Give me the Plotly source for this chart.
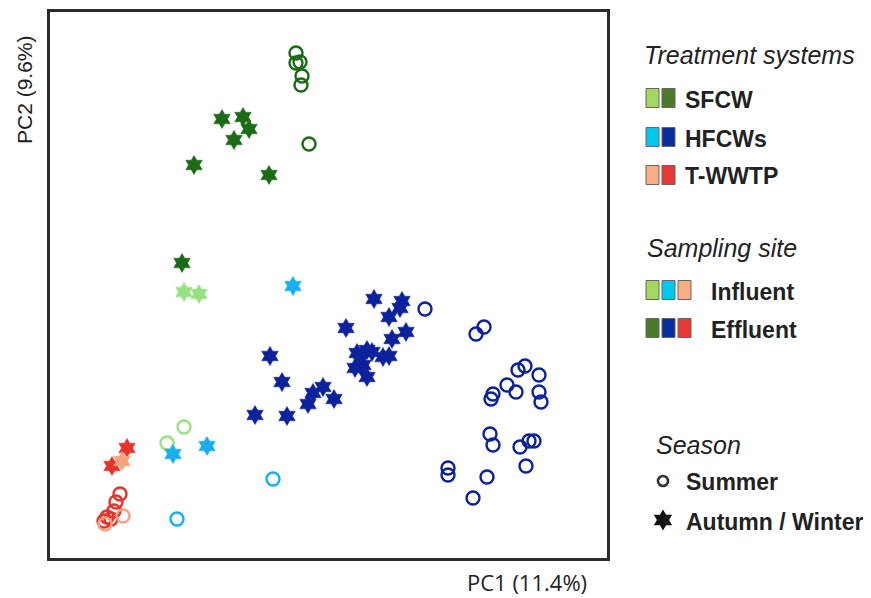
import plotly.graph_objects as go

# page body has an 8px margin, so the figure is drawn 8px in from the top-left
OFF = 8
W, H = 871 - OFF, 598 - OFF

# ---- data (PC scores, arbitrary units) ----
sfcw_eff_summer_x = [246, 246, 250, 252, 251, 259]
sfcw_eff_summer_y = [505, 495, 496, 482, 473, 414]
sfcw_eff_winter_x = [172, 193, 199, 184, 144, 219, 132]
sfcw_eff_winter_y = [439, 441, 429, 418, 393, 383, 295]
sfcw_inf_winter_x = [134, 149]
sfcw_inf_winter_y = [266, 264]
sfcw_inf_summer_x = [134, 117]
sfcw_inf_summer_y = [131, 115]

hfcw_inf_winter_x = [243, 123, 157]
hfcw_inf_winter_y = [272, 104, 112]
hfcw_inf_summer_x = [223, 127]
hfcw_inf_summer_y = [79, 39]
hfcw_eff_winter_x = [324, 352, 350, 339, 296, 356, 342, 307, 317, 333, 339, 305, 313, 317,
                     220, 232, 273, 263, 284, 258, 205, 237, 310, 322]
hfcw_eff_winter_y = [259, 257, 250, 241, 230, 226, 219, 205, 208, 201, 202, 190, 193, 181,
                     202, 176, 171, 165, 159, 154, 143, 142, 198, 206]
hfcw_eff_summer_x = [375, 434, 426, 475, 468, 489, 457, 466, 489, 491, 443, 441, 440, 443,
                     470, 479, 484, 398, 398, 437, 476, 423]
hfcw_eff_summer_y = [249, 231, 224, 192, 188, 183, 173, 166, 166, 156, 164, 159, 124, 113,
                     111, 117, 117, 90, 83, 81, 92, 60]

twwtp_eff_winter_x = [77, 62]
twwtp_eff_winter_y = [110, 92]
twwtp_inf_winter_x = [72]
twwtp_inf_winter_y = [97]
twwtp_eff_summer_x = [70, 66, 64, 57, 54, 61]
twwtp_eff_summer_y = [64, 56, 47, 41, 37, 39]
twwtp_inf_summer_x = [73, 55]
twwtp_inf_summer_y = [42, 34]

# marker colours
C_SF_IN, C_SF_EF = "#96e283", "#1c6b16"
C_HF_IN, C_HF_EF = "#18aef2", "#0c229c"
C_TW_IN, C_TW_EF = "#f7a27c", "#e8322c"
# legend colours
L_SF = ["#a2d95c", "#4a7a2c"]
L_HF = ["#00c8ee", "#0a2c9c"]
L_TW = ["#f8ae80", "#e83a34"]

fig = go.Figure()

def circles(x, y, c):
    fig.add_trace(go.Scatter(x=x, y=y, mode="markers", showlegend=False, hoverinfo="x+y",
                             marker=dict(symbol="circle-open", size=13, color=c,
                                         line=dict(width=2.4, color=c))))

def stars(x, y, c):
    fig.add_trace(go.Scatter(x=x, y=y, mode="markers", showlegend=False, hoverinfo="x+y",
                             marker=dict(symbol="hexagram", size=14.5, color=c,
                                         line=dict(width=0.5, color=c))))

circles(sfcw_eff_summer_x, sfcw_eff_summer_y, C_SF_EF)
circles(sfcw_inf_summer_x, sfcw_inf_summer_y, C_SF_IN)
circles(hfcw_eff_summer_x, hfcw_eff_summer_y, C_HF_EF)
circles(hfcw_inf_summer_x, hfcw_inf_summer_y, C_HF_IN)
circles(twwtp_eff_summer_x, twwtp_eff_summer_y, C_TW_EF)
circles(twwtp_inf_summer_x, twwtp_inf_summer_y, C_TW_IN)
stars(sfcw_eff_winter_x, sfcw_eff_winter_y, C_SF_EF)
stars(sfcw_inf_winter_x, sfcw_inf_winter_y, C_SF_IN)
stars(hfcw_eff_winter_x, hfcw_eff_winter_y, C_HF_EF)
stars(hfcw_inf_winter_x, hfcw_inf_winter_y, C_HF_IN)
stars(twwtp_eff_winter_x, twwtp_eff_winter_y, C_TW_EF)
stars(twwtp_inf_winter_x, twwtp_inf_winter_y, C_TW_IN)

# season legend markers on an overlay axis in screen-pixel units
fig.add_trace(go.Scatter(x=[663], y=[481], mode="markers", showlegend=False, hoverinfo="skip",
                         xaxis="x2", yaxis="y2",
                         marker=dict(symbol="circle-open", size=10, color="#333",
                                     line=dict(width=2.6, color="#333"))))
fig.add_trace(go.Scatter(x=[663], y=[520], mode="markers", showlegend=False, hoverinfo="skip",
                         xaxis="x2", yaxis="y2",
                         marker=dict(symbol="hexagram", size=16, color="#111")))

shapes = []
def sq(x0, yc, c):
    shapes.append(dict(type="rect", xref="x2", yref="y2", x0=x0, x1=x0 + 13,
                       y0=yc - 9.5, y1=yc + 9.5, fillcolor=c,
                       line=dict(color="#666", width=1)))

for yc, cols in [(98, L_SF), (137, L_HF), (175, L_TW)]:
    sq(646, yc, cols[0]); sq(662, yc, cols[1])
for yc, k in [(290, 0), (328, 1)]:
    sq(646, yc, L_SF[k]); sq(662, yc, L_HF[k]); sq(678, yc, L_TW[k])

ann = []
def txt(x, y, s, size, bold=False, italic=False, font="Liberation Sans", anchor="left"):
    if bold:
        s = "<b>" + s + "</b>"
    if italic:
        s = "<i>" + s + "</i>"
    ann.append(dict(x=x, y=y, xref="x2", yref="y2", text=s, showarrow=False,
                    xanchor=anchor, yanchor="middle",
                    font=dict(family=font, size=size, color="#222")))

txt(642, 55, "Treatment systems", 25, italic=True)
txt(683, 100, "SFCW", 23, bold=True)
txt(683, 139, "HFCWs", 23, bold=True)
txt(683, 176, "T-WWTP", 23, bold=True)
txt(645, 248, "Sampling site", 25, italic=True)
txt(709, 292, "Influent", 23, bold=True)
txt(709, 330, "Effluent", 23, bold=True)
txt(654, 445, "Season", 25, italic=True)
txt(684, 482, "Summer", 23, bold=True)
txt(684, 522, "Autumn / Winter", 23, bold=True)
txt(589, 582, "PC1 (11.4%)", 22, font="Open Sans", anchor="right")

ann.append(dict(x=24, y=90, xref="x2", yref="y2", text="PC2 (9.6%)", showarrow=False,
                textangle=-90, xanchor="center", yanchor="middle",
                font=dict(family="Liberation Sans", size=21, color="#222")))

fig.update_layout(
    width=W, height=H, autosize=False,
    margin=dict(l=0, r=0, t=0, b=0),
    paper_bgcolor="white", plot_bgcolor="rgba(0,0,0,0)",
    showlegend=False,
    xaxis=dict(domain=[(50 - OFF) / W, (607 - OFF) / W], range=[0, 557], showgrid=False,
               zeroline=False, showticklabels=False, ticks="", showline=True, mirror=True,
               linecolor="#2a2a2a", linewidth=2.5, anchor="y"),
    yaxis=dict(domain=[1 - (558 - OFF) / H, 1 - (12 - OFF) / H], range=[0, 546], showgrid=False,
               zeroline=False, showticklabels=False, ticks="", showline=True, mirror=True,
               linecolor="#2a2a2a", linewidth=2.5, anchor="x"),
    xaxis2=dict(domain=[0, 1], range=[OFF, 871], visible=False, anchor="y2", fixedrange=True),
    yaxis2=dict(domain=[0, 1], range=[598, OFF], visible=False, anchor="x2", fixedrange=True),
    shapes=shapes,
    annotations=ann,
)

fig.write_html("out.html")
